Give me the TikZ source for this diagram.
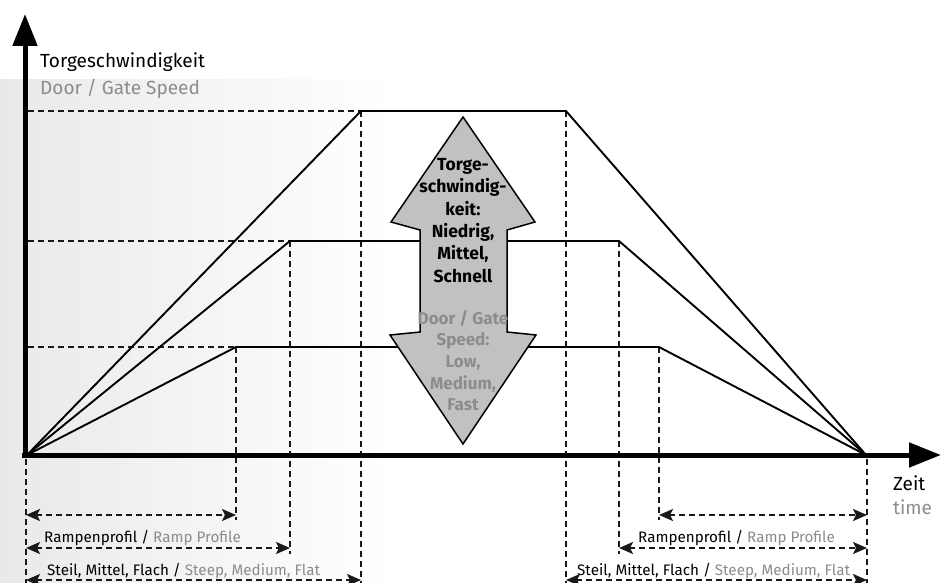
\documentclass[tikz,border=0pt]{standalone}
\usepackage{fontspec}
\setmainfont{Fira Sans}
\usetikzlibrary{arrows.meta}
\definecolor{engray}{HTML}{8C8C8C}
\definecolor{arrowfill}{HTML}{BFC1C3}
\definecolor{bgleft}{HTML}{E8E9E9}
\begin{document}
\begin{tikzpicture}[x=1pt,y=-1pt,
  graph/.style={line width=1.9pt,black,line join=miter},
  guide/.style={line width=2.2pt,black!90,dash pattern=on 6pt off 4pt},
  dim/.style={guide,{Stealth[length=14pt,width=12pt,inset=3pt]}-{Stealth[length=14pt,width=12pt,inset=3pt]}},
  axis/.style={line width=5pt,-{Triangle[length=32pt,width=24pt]}},
  lbl/.style={font=\fontsize{15.2}{19}\selectfont,inner sep=0pt,anchor=base west},
  axlbl/.style={font=\fontsize{19}{22}\selectfont,inner sep=0pt,anchor=base west},
  en/.style={text=engray}]
\useasboundingbox (0,0) rectangle (942,583);
% faint background
\shade[left color=bgleft,right color=white] (0,80) rectangle (390,583);
% key points
\coordinate (O) at (27,455);
\coordinate (T1) at (361,111); \coordinate (T2) at (566,111);
\coordinate (M1) at (290,241); \coordinate (M2) at (619,241);
\coordinate (L1) at (236,347); \coordinate (L2) at (659,347);
\coordinate (E) at (866,455);
% guides
\draw[guide] (28,111) -- (T1);
\draw[guide] (28,241) -- (M1);
\draw[guide] (28,347) -- (L1);
\draw[guide] (T1) -- (361,583);
\draw[guide] (M1) -- (290,554);
\draw[guide] (L1) -- (236,520);
\draw[guide] (T2) -- (566,583);
\draw[guide] (M2) -- (619,554);
\draw[guide] (L2) -- (659,520);
\draw[guide] (26,459) -- (26,583);
\draw[guide] (867,459) -- (867,583);
% dimension arrows
\draw[dim] (26,515) -- (236,515);
\draw[dim] (26,548) -- (290,548);
\draw[dim] (26,580) -- (361,580);
\draw[dim] (659,515) -- (867,515);
\draw[dim] (619,548) -- (867,548);
\draw[dim] (566,580) -- (867,580);
% graph
\draw[graph] (O) -- (T1) -- (T2) -- (E);
\draw[graph] (O) -- (M1) -- (M2) -- (E);
\draw[graph] (O) -- (L1) -- (L2) -- (E);
% double arrow
\draw[fill=arrowfill,line width=1.5pt,line join=miter]
  (463,117) -- (535,222) -- (507,230) -- (507,332) -- (536,335) -- (463,444)
  -- (390,335) -- (420,332) -- (420,230) -- (391,222) -- cycle;
\node[font=\bfseries\fontsize{17.5}{22.4}\selectfont,align=center,anchor=north,inner sep=0pt]
  (de) at (463,158) {Torge-\\schwindig-\\keit:\\Niedrig,\\Mittel,\\Schnell};
\node[font=\bfseries\fontsize{17}{21.7}\selectfont,align=center,anchor=north,inner sep=0pt,text=engray]
  (en) at (463,310) {Door / Gate\\Speed:\\Low,\\Medium,\\Fast};
% axes
\draw[axis] (25,458) -- (25,14);
\draw[axis] (22,455) -- (941,455);
% labels
\node[axlbl] (ylab) at (40,68) {Torgeschwindigkeit};
\node[axlbl,en] (ylaben) at (40,95) {Door / Gate Speed};
\node[axlbl] (xlab) at (893,490) {Zeit};
\node[axlbl,en] (xlaben) at (893,514) {time};
\node[lbl] (rl) at (44,542) {Rampenprofil / \textcolor{engray}{Ramp Profile}};
\node[lbl] (sl) at (47,575) {Steil, Mittel, Flach / \textcolor{engray}{Steep, Medium, Flat}};
\node[lbl] (rr) at (638,542) {Rampenprofil / \textcolor{engray}{Ramp Profile}};
\node[lbl] (sr) at (577,575) {Steil, Mittel, Flach / \textcolor{engray}{Steep, Medium, Flat}};
\end{tikzpicture}
\end{document}
